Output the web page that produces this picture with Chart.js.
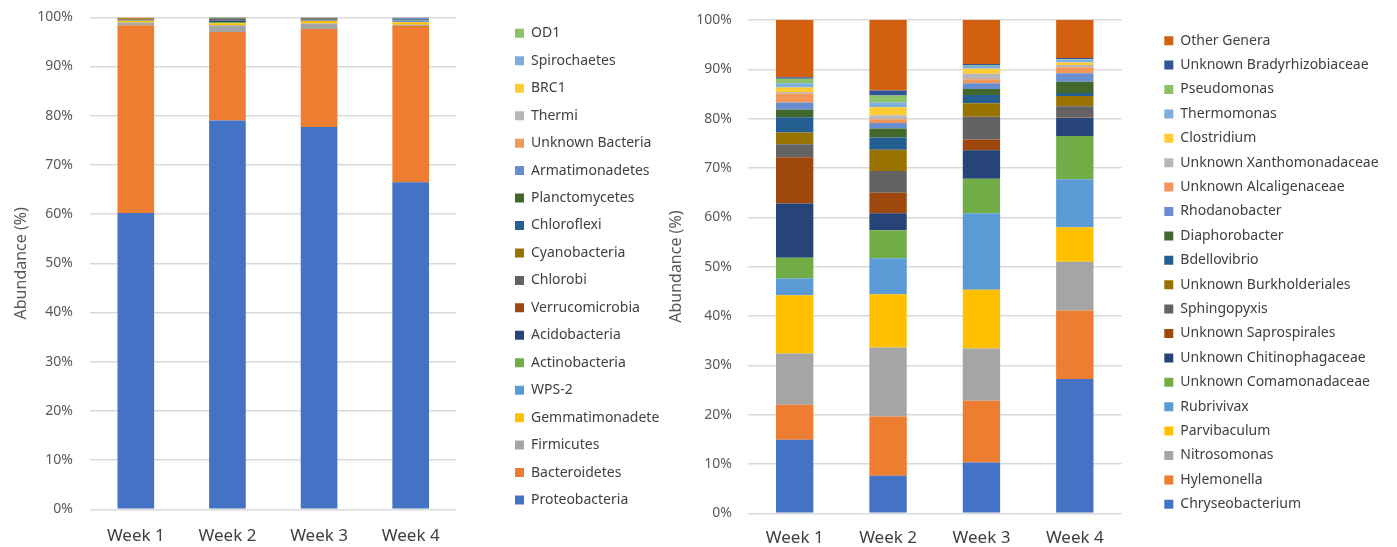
<!DOCTYPE html>
<html>
<head>
<meta charset="utf-8">
<script src="https://cdn.jsdelivr.net/npm/chart.js@4.4.1/dist/chart.umd.min.js"></script>
<style>
  body { margin: 0; background: #fff; width: 1397px; height: 547px; overflow: hidden; }
  .box { position: absolute; top: 0; height: 547px; }
  #leftBox { left: 0; width: 690px; }
  #rightBox { left: 655px; width: 742px; }
</style>
</head>
<body>
<div class="box" id="leftBox"><canvas id="phylumChart"></canvas></div>
<div class="box" id="rightBox"><canvas id="genusChart"></canvas></div>
<script>
// Week labels and y ticks
const weeks = ['Week 1', 'Week 2', 'Week 3', 'Week 4'];
const yTicks = [0, 10, 20, 30, 40, 50, 60, 70, 80, 90, 100];

// Phylum level (left chart), bottom to top
const phyla = ['Proteobacteria', 'Bacteroidetes', 'Firmicutes', 'Gemmatimonadete', 'WPS-2',
  'Actinobacteria', 'Acidobacteria', 'Verrucomicrobia', 'Chlorobi', 'Cyanobacteria',
  'Chloroflexi', 'Planctomycetes', 'Armatimonadetes', 'Unknown Bacteria', 'Thermi',
  'BRC1', 'Spirochaetes', 'OD1'];
const proteobacteria = [60.2, 79.0, 77.7, 66.46];
const bacteroidetes = [38.2, 18.0, 19.9, 31.75];
const firmicutes = [0.55, 1.4, 1.16, 0.3];
const gemmatimonadete = [0.3, 0.4, 0.5, 0.5];
const wps2 = [0.05, 0.05, 0.05, 0.3];
const actinobacteria = [0.1, 0.2, 0.05, 0.05];
const acidobacteria = [0.05, 0.3, 0.2, 0.05];
const verrucomicrobia = [0.1, 0.05, 0.05, 0.02];
const chlorobi = [0.1, 0.25, 0.2, 0.05];
const cyanobacteria = [0.14, 0.05, 0.05, 0.02];
const chloroflexi = [0.02, 0.1, 0.02, 0.2];
const planctomycetes = [0.02, 0.1, 0.02, 0.02];
const armatimonadetes = [0.05, 0.02, 0.02, 0.2];
const unknownBacteria = [0.02, 0.02, 0.02, 0.02];
const thermi = [0.02, 0.02, 0.02, 0.02];
const brc1 = [0.02, 0.01, 0.01, 0.01];
const spirochaetes = [0.05, 0.02, 0.02, 0.02];
const od1 = [0.01, 0.01, 0.01, 0.01];

// Genus level (right chart), bottom to top
const genera = ['Chryseobacterium', 'Hylemonella', 'Nitrosomonas', 'Parvibaculum', 'Rubrivivax',
  'Unknown Comamonadaceae', 'Unknown Chitinophagaceae', 'Unknown Saprospirales', 'Sphingopyxis',
  'Unknown Burkholderiales', 'Bdellovibrio', 'Diaphorobacter', 'Rhodanobacter',
  'Unknown Alcaligenaceae', 'Unknown Xanthomonadaceae', 'Clostridium', 'Thermomonas',
  'Pseudomonas', 'Unknown Bradyrhizobiaceae', 'Other Genera'];
const chryseobacterium = [14.9, 7.6, 10.3, 27.2];
const hylemonella = [7.1, 12.0, 12.5, 13.9];
const nitrosomonas = [10.4, 14.0, 10.6, 9.9];
const parvibaculum = [11.8, 10.8, 11.9, 7.0];
const rubrivivax = [3.4, 7.3, 15.5, 9.7];
const comamonadaceae = [4.2, 5.7, 7.0, 8.8];
const chitinophagaceae = [11.0, 3.4, 5.8, 3.7];
const saprospirales = [9.4, 4.2, 2.2, 0.1];
const sphingopyxis = [2.6, 4.4, 4.6, 2.2];
const burkholderiales = [2.4, 4.3, 2.7, 2.1];
const bdellovibrio = [3.1, 2.5, 1.7, 0.6];
const diaphorobacter = [1.5, 1.8, 1.2, 2.3];
const rhodanobacter = [1.5, 1.1, 1.2, 1.7];
const alcaligenaceae = [1.8, 0.8, 0.8, 1.2];
const xanthomonadaceae = [0.3, 0.8, 1.1, 0.5];
const clostridium = [0.9, 1.6, 1.0, 0.5];
const thermomonas = [0.9, 1.0, 0.6, 0.6];
const pseudomonas = [0.9, 1.4, 0.1, 0.1];
const bradyrhizobiaceae = [0.3, 1.0, 0.3, 0.2];
const otherGenera = [11.6, 14.3, 8.9, 7.7];

// Office palette
const palette = ['#4472C4', '#ED7D31', '#A5A5A5', '#FFC000', '#5B9BD5', '#70AD47', '#264478',
  '#9E480E', '#636363', '#997300', '#255E91', '#43682B', '#698ED0', '#F1975A', '#B7B7B7',
  '#FFCD33', '#7CAFDD', '#8CC168'];
const genusPalette = palette.concat(['#2F5597', '#D2600F']);

Chart.defaults.font.family = "'Noto Sans', sans-serif";
Chart.defaults.animation = false;

// force legend width and move it to a fixed spot
function legendPlacer(width, x, top) {
  return {
    id: 'legendPlacer',
    beforeInit(chart) {
      const fit = chart.legend.fit;
      chart.legend.fit = function () {
        fit.call(this);
        this.width = width;
      };
    },
    afterLayout(chart) {
      const lg = chart.legend;
      lg.left = x - lg.options.labels.padding;
      lg.top = top;
    }
  };
}

function makeChart(id, names, series, colors, opts) {
  const datasets = names.map((n, i) => ({
    label: n,
    data: series[i],
    backgroundColor: colors[i],
    borderWidth: 0,
    barPercentage: 0.4,
    categoryPercentage: 1
  }));
  return new Chart(document.getElementById(id), {
    type: 'bar',
    data: { labels: weeks, datasets: datasets },
    plugins: [legendPlacer(opts.legendWidth, opts.legendX, opts.legendTop)],
    options: {
      responsive: true,
      maintainAspectRatio: false,
      layout: { padding: { top: opts.top, left: 0, right: 0, bottom: 0 } },
      plugins: {
        tooltip: { enabled: false },
        legend: {
          position: 'right',
          align: 'start',
          reverse: true,
          labels: {
            boxWidth: 9,
            boxHeight: 9,
            padding: opts.rowPad,
            color: '#404040',
            font: { size: 14 }
          }
        }
      },
      scales: {
        x: {
          stacked: true,
          grid: { display: false },
          border: { display: false },
          ticks: { color: '#404040', font: { size: 17 }, padding: opts.xPad },
          afterFit: s => { s.height = opts.xHeight; }
        },
        y: {
          stacked: true,
          min: 0,
          max: 100,
          afterBuildTicks: s => { s.ticks = yTicks.map(v => ({ value: v })); },
          // invisible tick marks give the label gap without padding the top
          grid: { color: '#D9D9D9', lineWidth: 1.5, drawTicks: true, tickLength: opts.yPad, tickColor: 'rgba(0,0,0,0)' },
          border: { display: false },
          ticks: { color: '#595959', font: { size: 14 }, padding: 0, callback: v => v + '%' },
          title: { display: true, text: 'Abundance (%)', color: '#595959', font: { size: 16 }, padding: { top: 12, bottom: 0 } },
          afterFit: s => { s.width = opts.yWidth; }
        }
      }
    }
  });
}

makeChart('phylumChart', phyla,
  [proteobacteria, bacteroidetes, firmicutes, gemmatimonadete, wps2, actinobacteria, acidobacteria,
   verrucomicrobia, chlorobi, cyanobacteria, chloroflexi, planctomycetes, armatimonadetes,
   unknownBacteria, thermi, brc1, spirochaetes, od1],
  palette,
  { top: 17.3, xHeight: 37.7, yWidth: 90, yPad: 17, xPad: 9, legendWidth: 233.5, legendX: 515, legendTop: 12.9, rowPad: 13.45 });

makeChart('genusChart', genera,
  [chryseobacterium, hylemonella, nitrosomonas, parvibaculum, rubrivivax, comamonadaceae,
   chitinophagaceae, saprospirales, sphingopyxis, burkholderiales, bdellovibrio, diaphorobacter,
   rhodanobacter, alcaligenaceae, xanthomonadaceae, clostridium, thermomonas, pseudomonas,
   bradyrhizobiaceae, otherGenera],
  genusPalette,
  { top: 20, xHeight: 33.7, yWidth: 93, yPad: 16, xPad: 7, legendWidth: 275.5, legendX: 509.3, legendTop: 23.3, rowPad: 10.4 });
</script>
</body>
</html>
